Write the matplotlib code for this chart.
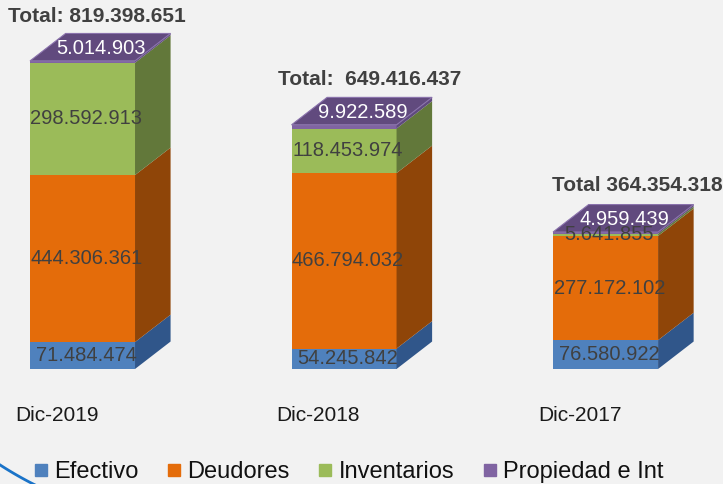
import matplotlib
matplotlib.use('Agg')
import matplotlib.pyplot as plt
from matplotlib.patches import Polygon
from matplotlib.lines import Line2D
import numpy as np

plt.rcParams['font.family'] = ['Liberation Sans', 'DejaVu Sans']

# data (values in millions)
categories = ['Dic-2019', 'Dic-2018', 'Dic-2017']
series = ['Efectivo', 'Deudores', 'Inventarios', 'Propiedad e Int']
efectivo = [71.484474, 54.245842, 76.580922]
deudores = [444.306361, 466.794032, 277.172102]
inventarios = [298.592913, 118.453974, 5.641855]
propiedad = [5.014903, 9.922589, 4.959439]
value_labels = [
    ['71.484.474', '54.245.842', '76.580.922'],
    ['444.306.361', '466.794.032', '277.172.102'],
    ['298.592.913', '118.453.974', '5.641.855'],
    ['5.014.903', '9.922.589', '4.959.439'],
]
total_labels = ['Total: 819.398.651', 'Total:  649.416.437', 'Total 364.354.318']

# styles
front_colors = ['#4f81bd', '#e46c0a', '#9bbb59', '#8064a2']
side_colors = ['#30568a', '#8f4508', '#62783a', '#5f4a7d']
top_color = '#614a7e'
bg = '#f2f2f2'

fig = plt.figure(figsize=(7.23, 4.84), dpi=100)
fig.patch.set_facecolor(bg)
ax = fig.add_axes([0, 0, 1, 1])
ax.set_facecolor(bg)
ax.set_xlim(-0.3155, 2.449)
ax.set_ylim(-305.9, 981.4)
ax.axis('off')

w = 0.4015      # bar front width
dx = 0.136      # depth offset x
dy = 73.0       # depth offset y
x = np.arange(len(categories))
stack = np.array([efectivo, deudores, inventarios, propiedad])

for i in range(len(categories)):
    left = x[i] - w / 2
    bottom = 0.0
    for s in range(len(series)):
        h = stack[s, i]
        top = bottom + h
        ax.add_patch(Polygon([(left, bottom), (left + w, bottom), (left + w, top), (left, top)],
                             closed=True, facecolor=front_colors[s], edgecolor='none', zorder=2))
        ax.add_patch(Polygon([(left + w, bottom), (left + w + dx, bottom + dy),
                              (left + w + dx, top + dy), (left + w, top)],
                             closed=True, facecolor=side_colors[s], edgecolor='none', zorder=2))
        if s < 3:
            ax.text(x[i] + 0.015, bottom + h / 2, value_labels[s][i], ha='center', va='center',
                    fontsize=14.5, color='#404040', zorder=5)
        bottom = top
    # top face
    ax.add_patch(Polygon([(left, bottom), (left + w, bottom), (left + w + dx, bottom + dy),
                          (left + dx, bottom + dy)],
                         closed=True, facecolor=top_color, edgecolor='#8a72ac', linewidth=0.8, zorder=3))
    ax.text(x[i] + dx / 2 + 0.003, bottom + dy / 2 - 3, value_labels[3][i], ha='center', va='center',
            fontsize=14.5, color='white', zorder=5)

# totals
total_dx = [-0.084, -0.051, -0.004]
total_dy = [46, 47, 51]
for i in range(len(categories)):
    ax.text(x[i] - w / 2 + total_dx[i], stack[:, i].sum() + dy + total_dy[i],
            total_labels[i], ha='left', va='center', fontsize=15, fontweight='bold', color='#404040')

# category labels
for i in range(len(categories)):
    ax.text(x[i] - w / 2 - 0.057, -125, categories[i], ha='left', va='center',
            fontsize=15, color='#1a1a1a')

# legend
handles = [Line2D([], [], linestyle='none', marker='s', markersize=8.3,
                  markerfacecolor=c, markeredgecolor=c) for c in front_colors]
fig.legend(handles, series, loc='center', bbox_to_anchor=(0.4825, 1 - 472 / 484), ncol=4,
           frameon=False, fontsize=17, handlelength=0.55, handletextpad=0.3,
           columnspacing=1.22, borderpad=0, labelcolor='#111111')

# decorative arc bottom-left (pixel geometry, top-left origin)
t = np.radians(np.linspace(225, 250, 60))
cx, cy, r = 200, 156, 368
px = cx + r * np.cos(t)
py = cy - r * np.sin(t)
fig.add_artist(Line2D(px / 723, 1 - py / 484, transform=fig.transFigure,
                      color='#1a73c8', linewidth=2))

plt.savefig('out.png', dpi=100, facecolor=bg)
plt.close()
